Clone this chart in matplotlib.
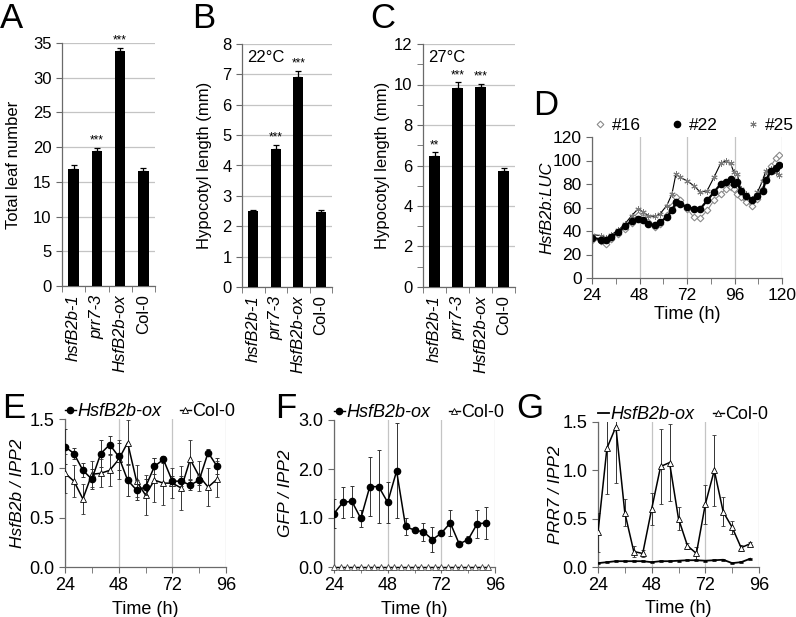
import matplotlib
matplotlib.use('Agg')
import matplotlib.pyplot as plt
from matplotlib.lines import Line2D
import numpy as np

plt.rcParams['font.family'] = ['Liberation Sans', 'DejaVu Sans']
plt.rcParams['font.size'] = 12
plt.rcParams['axes.linewidth'] = 0.9

# ---------------- data ----------------
genotypes = ['hsfB2b-1', 'prr7-3', 'HsfB2b-ox', 'Col-0']
geno_italic = [True, True, True, False]

leaf_mean = [16.9, 19.4, 33.8, 16.5]
leaf_err = [0.5, 0.5, 0.5, 0.5]
leaf_sig = ['', '***', '***', '']

hyp22_mean = [2.50, 4.55, 6.92, 2.48]
hyp22_err = [0.05, 0.12, 0.20, 0.06]
hyp22_sig = ['', '***', '***', '']

hyp27_mean = [6.45, 9.85, 9.87, 5.72]
hyp27_err = [0.20, 0.25, 0.17, 0.18]
hyp27_sig = ['**', '***', '***', '']

# Panel D: luciferase traces
luc_t = [24, 28.7, 31.3, 33.8, 37.2, 40.6, 44, 47.4, 50, 52.5, 55.9, 58.4, 61.8, 64.4,
         66.4, 68.6, 72, 75.4, 78.8, 82.2, 85.6, 89, 91.5, 94, 95.7, 97.4, 99.1, 101.6,
         105, 107.6, 110.2, 111.8, 114.4, 117, 118.6]
luc16 = [32.7, 31.5, 28.7, 33.5, 37.7, 42, 46.8, 53.2, 51.8, 47.6, 43.4, 46.2, 53.2, 61.7,
         68.7, 66, 58.9, 51.8, 51.3, 57.5, 66, 71.5, 75.8, 77.2, 75.8, 71.5, 68.7, 64.5,
         61.7, 67.3, 75.8, 85.6, 95.5, 102, 104.8]
luc22 = [34.4, 32.7, 32, 35, 39, 44, 48.5, 50.4, 49, 46, 44.8, 47.6, 51.8, 57.5,
         64.5, 63, 60.3, 59, 59, 66, 73, 80, 82, 84, 80, 81.4, 74, 70,
         66, 70, 74, 83, 91, 94, 96]
luc25 = [37, 36, 34, 37, 40.5, 46, 53, 59, 56, 53, 52.4, 54.6, 61.7, 71.5,
         88.5, 85.6, 82.8, 78.6, 73, 74.4, 85.6, 97.5, 99.7, 97.5, 90, 88.5, 75.8, 71.5,
         67.3, 73, 82.8, 91.3, 92.7, 90, 87.6]

# Panels E-G: qPCR time courses (4 h sampling)
qt = [24, 28, 32, 36, 40, 44, 48, 52, 56, 60, 64, 68, 72, 76, 80, 84, 88, 92]

e_ox = [1.22, 1.15, 0.98, 0.89, 1.15, 1.24, 1.12, 0.88, 0.78, 0.81, 1.02, 1.09, 0.87, 0.87, 0.83, 0.88, 1.16, 1.02]
e_ox_err = [0.18, 0.06, 0.07, 0.10, 0.14, 0.09, 0.14, 0.16, 0.10, 0.08, 0.08, 0.04, 0.05, 0.05, 0.05, 0.05, 0.04, 0.08]
e_col = [0.95, 0.87, 0.69, 0.94, 0.95, 0.98, 1.09, 1.26, 0.87, 0.73, 0.88, 0.85, 0.85, 0.80, 1.09, 0.92, 0.81, 0.89]
e_col_err = [0.20, 0.16, 0.15, 0.13, 0.14, 0.16, 0.20, 0.23, 0.16, 0.20, 0.22, 0.22, 0.15, 0.22, 0.20, 0.15, 0.19, 0.18]

f_ox = [1.09, 1.32, 1.34, 0.99, 1.64, 1.64, 1.32, 1.96, 0.83, 0.75, 0.72, 0.56, 0.69, 0.90, 0.47, 0.56, 0.88, 0.90]
f_ox_err = [0.29, 0.32, 0.31, 0.18, 0.60, 0.74, 0.42, 0.97, 0.17, 0.05, 0.18, 0.25, 0.04, 0.26, 0.04, 0.08, 0.29, 0.32]
f_col_t = [24, 27, 30, 33, 36, 39, 42, 45, 48, 51, 54, 57, 60, 63, 66, 69, 72, 75, 78, 81, 84, 87, 90, 93]
f_col = [0.0] * 24

g_ox = [0.04, 0.05, 0.06, 0.06, 0.06, 0.06, 0.05, 0.06, 0.06, 0.065, 0.07, 0.07, 0.065, 0.07, 0.075, 0.04, 0.05, 0.085]
g_ox_err = [0.01] * 18
g_col = [0.36, 1.23, 1.45, 0.56, 0.16, 0.14, 0.60, 1.04, 1.08, 0.50, 0.22, 0.14, 0.65, 1.00, 0.57, 0.41, 0.20, 0.24]
g_col_err = [0.20, 0.47, 0.58, 0.14, 0.06, 0.04, 0.17, 0.39, 0.40, 0.12, 0.03, 0.07, 0.20, 0.37, 0.15, 0.07, 0.03, 0.02]

# ---------------- figure ----------------
W, H = 796, 617
fig = plt.figure(figsize=(W / 100, H / 100), dpi=100)

AXC = '#6a6a6a'
GRIDC = '#c4c4c4'


def ax_px(l, t, r, b):
    return fig.add_axes([l / W, 1 - b / H, (r - l) / W, (b - t) / H])


def style_spines(ax):
    for s in ['top', 'right']:
        ax.spines[s].set_visible(False)
    for s in ['left', 'bottom']:
        ax.spines[s].set_color(AXC)
    ax.tick_params(which='both', color=AXC, direction='out')


def bar_panel(ax, means, errs, sigs, ymax, major, minor, ylabel, note):
    x = np.arange(len(means))
    ax.bar(x, means, width=0.45, color='black', zorder=3)
    ax.errorbar(x, means, yerr=[np.zeros(len(errs)), errs], fmt='none', ecolor='black',
                elinewidth=0.9, capsize=2.2, capthick=0.9, zorder=4)
    for xi, m, e, s in zip(x, means, errs, sigs):
        if s:
            ax.text(xi, m + e + ymax * 0.005, s, ha='center', va='bottom', fontsize=8.5)
    ax.set_xlim(-0.5, 3.5)
    ax.set_ylim(0, ymax)
    ax.set_yticks(np.arange(0, ymax + 1e-6, major))
    if minor:
        ax.set_yticks(np.arange(0, ymax + 1e-6, minor), minor=True)
    ax.yaxis.grid(True, which='major', color=GRIDC, lw=0.9)
    ax.set_axisbelow(True)
    style_spines(ax)
    ax.set_xticks(x)
    ax.set_xticklabels(genotypes, rotation=90)
    for lab, it in zip(ax.get_xticklabels(), geno_italic):
        lab.set_fontstyle('italic' if it else 'normal')
    ax.set_xticks(np.arange(-0.5, 3.6, 1), minor=True)
    ax.tick_params(axis='x', which='major', length=0, pad=6)
    ax.tick_params(axis='x', which='minor', length=4)
    ax.tick_params(axis='y', which='both', length=4)
    ax.set_ylabel(ylabel)
    if note:
        ax.text(0.06, 0.945, note, transform=ax.transAxes, ha='left', va='center', fontsize=12)


axA = ax_px(62, 43, 155, 286)
bar_panel(axA, leaf_mean, leaf_err, leaf_sig, 35, 5, None, 'Total leaf number', None)
axA.yaxis.set_label_coords(-0.44, 0.5)

axB = ax_px(242, 44, 332, 287)
bar_panel(axB, hyp22_mean, hyp22_err, hyp22_sig, 8, 1, None, 'Hypocotyl length (mm)', '22°C')
axB.yaxis.set_label_coords(-0.33, 0.5)

axC = ax_px(423, 44, 515, 287)
bar_panel(axC, hyp27_mean, hyp27_err, hyp27_sig, 12, 2, 1, 'Hypocotyl length (mm)', '27°C')
axC.yaxis.set_label_coords(-0.36, 0.5)

# ---- Panel D ----
axD = ax_px(592, 137, 782, 278)
l16, = axD.plot(luc_t, luc16, color='#8c8c8c', lw=0.8, marker='D', ms=3.4, mfc='white',
                mec='#8a8a8a', mew=0.8, label='#16')
l25, = axD.plot(luc_t, luc25, color='black', lw=0.8, marker=(6, 2, 0), ms=4.5,
                mec='#7a7a7a', mew=0.7, label='#25')
l22, = axD.plot(luc_t, luc22, color='black', lw=1.6, marker='o', ms=4.5, mfc='black',
                mec='black', label='#22')
axD.set_xlim(24, 120)
axD.set_ylim(0, 120)
axD.set_xticks([24, 48, 72, 96, 120])
axD.set_xticks([36, 60, 84, 108], minor=True)
axD.set_yticks(np.arange(0, 121, 20))
axD.xaxis.grid(True, which='major', color=GRIDC, lw=0.9)
axD.set_axisbelow(True)
style_spines(axD)
axD.tick_params(which='both', length=4, labelsize=12.5)
axD.set_xlabel('Time (h)', fontsize=13)
axD.xaxis.set_label_coords(0.5, -0.2)
axD.set_ylabel('HsfB2b:LUC', fontstyle='italic', fontsize=12)
axD.yaxis.set_label_coords(-0.2, 0.5)
legD = axD.legend([l16, l22, l25], ['#16', '#22', '#25'], loc='lower left',
                  bbox_to_anchor=(0.0, 1.03), ncol=3, frameon=False, handlelength=0.9,
                  handletextpad=0.25, columnspacing=1.6, borderpad=0, borderaxespad=0,
                  fontsize=12.5)
for h in legD.legend_handles:
    h.set_linestyle('none')


# ---- Panels E-G ----
def time_panel(ax, ymax, yticks, ylabel, lab_x):
    ax.set_xlim(24, 96)
    ax.set_ylim(0, ymax)
    ax.set_xticks([24, 48, 72, 96])
    ax.set_xticks([36, 60, 84], minor=True)
    ax.set_yticks(yticks)
    ax.set_yticklabels(['%.1f' % v for v in yticks])
    ax.xaxis.grid(True, which='major', color=GRIDC, lw=0.9)
    ax.set_axisbelow(True)
    style_spines(ax)
    ax.tick_params(which='both', length=4, labelsize=13)
    ax.set_xlabel('Time (h)', fontsize=13)
    ax.xaxis.set_label_coords(0.5, -0.23)
    ax.set_ylabel(ylabel, fontstyle='italic', fontsize=12.5)
    ax.yaxis.set_label_coords(lab_x, 0.5)


def legend_two(ax, h1, h2, x0):
    leg = ax.legend([h1, h2], ['HsfB2b-ox', 'Col-0'], loc='lower left',
                    bbox_to_anchor=(x0, 0.99), ncol=2, frameon=False, handlelength=0.6,
                    handletextpad=0.1, columnspacing=1.0, borderpad=0, borderaxespad=0,
                    fontsize=13)
    leg.get_texts()[0].set_fontstyle('italic')
    return leg


ekw = dict(elinewidth=0.7, capsize=1.6, capthick=0.7, ecolor='#333333')

axE = ax_px(65, 419, 226, 567)
axE.errorbar(qt, e_col, yerr=e_col_err, color='black', lw=1.1, marker='^', ms=5,
             mfc='white', mec='black', mew=0.6, zorder=3, **ekw)
axE.errorbar(qt, e_ox, yerr=e_ox_err, color='black', lw=1.1, marker='o', ms=4.5,
             mfc='black', mec='black', zorder=4, **ekw)
time_panel(axE, 1.5, [0.0, 0.5, 1.0, 1.5], 'HsfB2b / IPP2', -0.25)
hE1 = Line2D([], [], color='black', lw=1.0, marker='o', ms=4.5)
hE2 = Line2D([], [], color='black', lw=1.0, marker='^', ms=5, mfc='white', mew=0.6)
legend_two(axE, hE1, hE2, 0.0)

axF = ax_px(334, 420, 495, 567)
axF.plot(f_col_t, f_col, color='black', lw=1.0, marker='^', ms=4.8, mfc='white', mec='#444444',
         mew=0.6, clip_on=False, zorder=3)
axF.errorbar(qt, f_ox, yerr=f_ox_err, color='black', lw=1.1, marker='o', ms=4.5,
             mfc='black', mec='black', zorder=4, **ekw)
time_panel(axF, 3.0, [0.0, 1.0, 2.0, 3.0], 'GFP / IPP2', -0.255)
legend_two(axF, hE1, hE2, 0.0)

axG = ax_px(598, 422, 759, 567)
axG.errorbar(qt, g_ox, yerr=g_ox_err, color='black', lw=1.3, marker='_', ms=3,
             zorder=4, **ekw)
axG.errorbar(qt, g_col, yerr=g_col_err, color='black', lw=1.1, marker='^', ms=5,
             mfc='white', mec='black', mew=0.6, zorder=3, **ekw)
time_panel(axG, 1.5, [0.0, 0.5, 1.0, 1.5], 'PRR7 / IPP2', -0.217)
hG1 = Line2D([], [], color='black', lw=1.3)
legend_two(axG, hG1, hE2, 0.0)

# ---- panel letters ----
for letter, x, base in [('A', 0, 28), ('B', 192, 28), ('C', 370, 28), ('D', 533, 115),
                        ('E', 2, 418), ('F', 275, 418), ('G', 516, 418)]:
    fig.text(x / W, 1 - base / H, letter, fontsize=25, ha='left', va='baseline')

fig.savefig('out.png', dpi=100)
